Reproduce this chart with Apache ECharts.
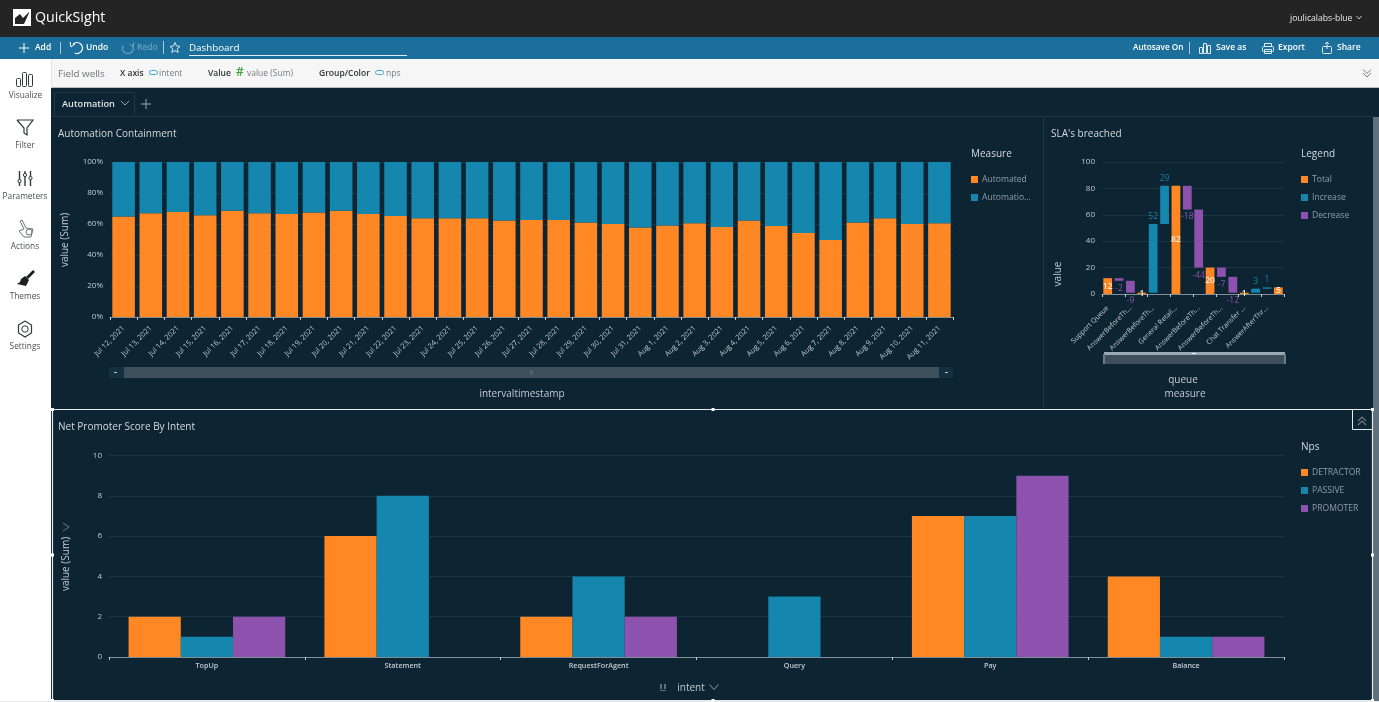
<!DOCTYPE html>
<html>
<head>
<meta charset="utf-8">
<title>QuickSight Dashboard</title>
<script src="https://cdn.jsdelivr.net/npm/echarts@6/dist/echarts.min.js"></script>
<style>
  html, body { margin: 0; padding: 0; background: #0d2432; }
  #main { width: 1379px; height: 702px; }
</style>
</head>
<body>
<div id="main"></div>
<script>
// automation containment
var days = ["Jul 12, 2021","Jul 13, 2021","Jul 14, 2021","Jul 15, 2021","Jul 16, 2021","Jul 17, 2021","Jul 18, 2021","Jul 19, 2021","Jul 20, 2021","Jul 21, 2021","Jul 22, 2021","Jul 23, 2021","Jul 24, 2021","Jul 25, 2021","Jul 26, 2021","Jul 27, 2021","Jul 28, 2021","Jul 29, 2021","Jul 30, 2021","Jul 31, 2021","Aug 1, 2021","Aug 2, 2021","Aug 3, 2021","Aug 4, 2021","Aug 5, 2021","Aug 6, 2021","Aug 7, 2021","Aug 8, 2021","Aug 9, 2021","Aug 10, 2021","Aug 11, 2021"];
var automated = [64.8,67,67.8,65.7,68.5,67,66.5,67.4,68.5,66.5,65.2,63.7,63.7,63.7,62.2,62.6,62.6,60.9,60,57.7,59,60.5,58.1,62.2,58.7,54.2,49.7,60.9,63.7,60,60.5];
var automationOther = [35.2,33,32.2,34.3,31.5,33,33.5,32.6,31.5,33.5,34.8,36.3,36.3,36.3,37.8,37.4,37.4,39.1,40,42.3,41,39.5,41.9,37.8,41.3,45.8,50.3,39.1,36.3,40,39.5];

// SLA waterfall
var queues = ["Support Queue","AnswerBeforeTh...","AnswerBeforeTh...","Ops Queue","AnswerBeforeTh...","AnswerBeforeTh...","General Retail...","AnswerBeforeTh...","AnswerBeforeTh...","Card Queue","AnswerBeforeTh...","AnswerBeforeTh...","Chat Transfer ...","AnswerAfterThr...","AnswerAfterThr...","Closing Queue"];
var slaBase = ["-",10,1,"-",1,53,"-",64,20,"-",13,1,"-",1,4,"-"];
var slaTotal = [12,"-","-",1,"-","-",82,"-","-",20,"-","-",1,"-","-",5];
var slaIncrease = ["-","-","-","-",52,29,"-","-","-","-","-","-","-",3,1,"-"];
var slaDecrease = ["-",2,9,"-","-","-","-",18,44,"-",7,12,"-","-","-","-"];

// NPS by intent
var intents = ["TopUp","Statement","RequestForAgent","Query","Pay","Balance"];
var detractor = [2,6,2,"-",7,4];
var passive = [1,8,4,3,7,1];
var promoter = [2,"-",2,"-",9,1];

var ORANGE = "#ff8724", BLUE = "#1586ae", PURPLE = "#8c52ae";
var FONT = "Open Sans";
var GRID_LINE = "#1c3543", AXIS_LINE = "#7f8f98", LABEL = "#c3cbd0", MUTED = "#8f9ea7";

var els = [];
function rect(x, y, w, h, fill, z) {
  els.push({ type: "rect", shape: { x: x, y: y, width: w, height: h }, style: { fill: fill }, z: z || 1, silent: true });
}
function box(x, y, w, h, stroke, r) {
  els.push({ type: "rect", shape: { x: x, y: y, width: w, height: h, r: r || 0 }, style: { fill: "none", stroke: stroke, lineWidth: 1 }, z: 3, silent: true });
}
function line(pts, stroke, lw) {
  els.push({ type: "polyline", shape: { points: pts }, style: { fill: "none", stroke: stroke, lineWidth: lw || 1 }, z: 3, silent: true });
}
function poly(pts, fill) {
  els.push({ type: "polygon", shape: { points: pts }, style: { fill: fill }, z: 3, silent: true });
}
function circle(cx, cy, r, stroke, fill) {
  els.push({ type: "circle", shape: { cx: cx, cy: cy, r: r }, style: { fill: fill || "none", stroke: stroke, lineWidth: 1 }, z: 3, silent: true });
}
function arc(cx, cy, r, a0, a1, stroke) {
  els.push({ type: "arc", shape: { cx: cx, cy: cy, r: r, startAngle: a0, endAngle: a1 }, style: { fill: "none", stroke: stroke, lineWidth: 1.2 }, z: 3, silent: true });
}
function text(str, x, y, size, color, opt) {
  opt = opt || {};
  els.push({
    type: "text", x: x, y: y, rotation: opt.rot || 0, z: 4, silent: true,
    style: { text: str, fill: color, font: (opt.bold ? "600 " : "") + size + "px '" + FONT + "'", textAlign: opt.align || "left", textVerticalAlign: "middle" }
  });
}
function chevron(cx, cy, w, h, color) {
  line([[cx - w, cy - h], [cx, cy + h], [cx + w, cy - h]], color, 1);
}

// page frame
rect(0, 0, 1379, 37, "#242424");
rect(0, 37, 1379, 22, "#1c6f9b");
rect(0, 59, 1379, 29, "#f6f6f6");
rect(0, 87, 1379, 1, "#b9bcbe");
rect(0, 59, 51, 643, "#ffffff");
rect(51, 59, 1, 29, "#e3e3e3");
rect(1373, 117, 6, 585, "#5f707a");

// top bar
poly([[13, 9], [31, 9], [31, 26], [13, 26]], "#ffffff");
poly([[15, 24], [15, 18], [20, 14], [23, 18], [29, 12], [29, 13], [24, 24]], "#242424");
text("QuickSight", 35, 18, 14.2, "#ffffff");
text("joulicalabs-blue", 1290, 18.5, 8.6, "#e8e8e8");
chevron(1359, 17.5, 2.5, 1.5, "#c8c8c8");

// action bar
line([[19, 48], [29, 48]], "#fff");
line([[24, 43], [24, 53]], "#fff");
text("Add", 35, 48, 8.5, "#fff", { bold: true });
rect(60, 42, 1, 12, "#a9c9da");
arc(77, 48, 5.5, -2.4, 2.0, "#fff");
line([[70, 42], [71, 47], [75, 44]], "#fff");
text("Undo", 86, 48, 8.5, "#fff", { bold: true });
arc(128, 48, 5.5, -0.7, 3.6, "#6aa0bd");
line([[134, 42], [133, 47], [129, 44]], "#6aa0bd");
text("Redo", 137, 48, 8.5, "#6aa0bd", { bold: true });
rect(163, 41, 1, 13, "#a9c9da");
line([[175, 42.5], [176.5, 46], [180, 46.4], [177.3, 48.8], [178.2, 52.5], [175, 50.5], [171.8, 52.5], [172.7, 48.8], [170, 46.4], [173.5, 46], [175, 42.5]], "#d8e6ee", 1);
text("Dashboard", 189, 48, 9.8, "#ffffff");
rect(189, 55, 218, 1, "#dfeaf0");
text("Autosave On", 1133, 48, 8.2, "#fff", { bold: true });
rect(1189, 42, 1, 12, "#a9c9da");
box(1199.5, 47.5, 3, 6, "#dfeaf0");
box(1203.5, 43.5, 3, 10, "#dfeaf0");
box(1207.5, 45.5, 3, 8, "#dfeaf0");
text("Save as", 1216, 48, 8.5, "#fff", { bold: true });
box(1262.5, 46.5, 11, 5, "#dfeaf0", 1);
box(1264.5, 43.5, 7, 3, "#dfeaf0");
box(1264.5, 49.5, 7, 4, "#dfeaf0");
text("Export", 1278, 48, 8.5, "#fff", { bold: true });
box(1322.5, 46.5, 9, 7, "#dfeaf0", 1);
line([[1327, 49], [1327, 42]], "#dfeaf0");
line([[1325, 44], [1327, 42], [1329, 44]], "#dfeaf0");
text("Share", 1337, 48, 8.5, "#fff", { bold: true });

// field wells
text("Field wells", 58, 74, 9.8, "#6f7478");
text("X axis", 120, 74, 8.5, "#2e3236", { bold: true });
box(149.5, 70.5, 8, 4, "#41a7d8", 2);
text("intent", 159, 74, 8.5, "#777c80");
text("Value", 208, 74, 8.5, "#2e3236", { bold: true });
text("#", 236, 73, 12, "#3aa63a", { bold: true });
text("value (Sum)", 247, 74, 8.5, "#777c80");
text("Group/Color", 319, 74, 8.5, "#2e3236", { bold: true });
box(375.5, 70.5, 8, 4, "#41a7d8", 2);
text("nps", 386, 74, 8.5, "#777c80");
chevron(1367, 71.5, 4, 2, "#777c80");
chevron(1367, 75, 4, 2, "#777c80");

// left rail
var railInk = "#33383c";
box(16.5, 78.5, 4, 8, railInk, 1);
box(22.5, 72.5, 4, 14, railInk, 1);
box(28.5, 74.5, 4, 12, railInk, 1);
text("Visualize", 25.5, 95.5, 8.3, "#4a4f54", { align: "center" });
line([[17, 120], [33, 120], [27, 128], [27, 135], [24, 133], [24, 128], [17, 120]], railInk, 1.2);
text("Filter", 25, 145.5, 8.3, "#4a4f54", { align: "center" });
[[19.5, 181], [25, 175], [30.5, 178]].forEach(function (k) {
  line([[k[0], 171], [k[0], 186]], railInk, 1.4);
  circle(k[0], k[1], 1.6, railInk, "#fff");
});
text("Parameters", 25, 196.5, 8.3, "#4a4f54", { align: "center" });
line([[20, 221], [24, 229], [19, 231], [24, 237], [31, 237], [33, 229], [26, 228], [22, 220], [20, 221]], "#6f7478", 1);
circle(29, 232, 3, "#6f7478");
text("Actions", 25, 246.5, 8.3, "#4a4f54", { align: "center" });
poly([[33, 270], [35, 272], [28, 279], [26, 277]], "#1d1f21");
poly([[25, 276], [29, 280], [26, 286], [17, 284], [20, 282], [21, 279]], "#1d1f21");
text("Themes", 25, 296.5, 8.3, "#4a4f54", { align: "center" });
line([[25, 321], [31.5, 325], [31.5, 333], [25, 337], [18.5, 333], [18.5, 325], [25, 321]], railInk, 1.2);
circle(25, 329, 3.2, railInk);
text("Settings", 25, 347, 8.3, "#4a4f54", { align: "center" });

// sheet tab
rect(53, 116, 1320, 1, "#1d3847");
box(54.5, 92.5, 80, 24, "#1d3847");
rect(55, 112, 79, 5, "#0d2432");
text("Automation", 62, 104.5, 9.2, "#dfe5e8", { bold: true });
chevron(125, 103, 4, 2, "#9aa7ae");
line([[141, 104], [151, 104]], "#9aa7ae");
line([[146, 99], [146, 109]], "#9aa7ae");

// panel dividers and the selected panel frame
rect(1043, 117, 1, 291, "#1d3847");
text("Measure", 971, 154.5, 10, "#d4dade");
text("Legend", 1301, 154.5, 10, "#d4dade");
text("Nps", 1301, 447.5, 10, "#d4dade");
line([[52, 409.5], [1372.5, 409.5], [1372.5, 700.5], [52.5, 700.5], [52.5, 409.5]], "#e6eaec", 1.2);
[[52.5, 409.5], [713, 409.5], [1372.5, 409.5], [52.5, 555], [1372.5, 555], [52.5, 700.5], [713, 700.5], [1372.5, 700.5]].forEach(function (p) {
  rect(p[0] - 1.5, p[1] - 1.5, 3, 3, "#ffffff", 5);
});
line([[1352.5, 410], [1352.5, 429.5], [1372, 429.5]], "#e6eaec", 1);
line([[1358, 421], [1362, 417], [1366, 421]], "#6c7c85", 1.2);
line([[1358, 425], [1362, 421], [1366, 425]], "#6c7c85", 1.2);
rect(0, 701, 1379, 1, "#e6eaec");

// axis titles, placed where the dashboard places them
text("value (Sum)", 65, 240, 10, LABEL, { rot: Math.PI / 2, align: "center" });
text("intervaltimestamp", 522, 394, 10, LABEL, { align: "center" });
text("value", 1058, 274, 10, LABEL, { rot: Math.PI / 2, align: "center" });
text("queue", 1183, 380, 10, LABEL, { align: "center" });
text("measure", 1185, 394, 10, LABEL, { align: "center" });
text("value (Sum)", 66, 564, 10, LABEL, { rot: Math.PI / 2, align: "center" });
line([[63, 523], [69, 527], [63, 531]], "#6c7c85", 1);
text("intent", 691, 688, 10, LABEL, { align: "center" });
chevron(714, 687, 4.5, 2.5, "#8f9ea7");
rect(660, 684, 2, 5, "#5d6e78");
rect(664, 684, 2, 5, "#5d6e78");
rect(660, 690, 6, 1, "#5d6e78");

// scroll bars under the two top charts
rect(109, 367, 844, 11, "#12303f");
rect(124, 367, 815, 11, "#3e505b");
rect(114, 372, 3, 1, "#b8c2c8");
rect(945, 372, 3, 1, "#b8c2c8");
rect(530, 370.5, 3, 4, "#55666f");
rect(1104, 352, 181, 12, "#3e505b");
rect(1104, 352, 181, 3, "#9aa9b2");
rect(1103, 354, 2, 10, "#6c7c85");
rect(1284, 354, 2, 10, "#6c7c85");
rect(1192, 353, 4, 1, "#e6eaec");

var myChart = echarts.init(document.getElementById("main"));

function xAxisBase(gridIndex, data) {
  return {
    type: "category", gridIndex: gridIndex, data: data,
    axisLine: { show: true, lineStyle: { color: AXIS_LINE } },
    axisTick: { show: true, lineStyle: { color: LABEL }, length: 3 },
    axisLabel: { color: LABEL, fontFamily: FONT, fontSize: 8, interval: 0 }
  };
}
function yAxisBase(gridIndex, max, interval) {
  return {
    type: "value", gridIndex: gridIndex, min: 0, max: max, interval: interval,
    axisLine: { show: false }, axisTick: { show: false },
    splitLine: { lineStyle: { color: GRID_LINE } },
    axisLabel: { color: LABEL, fontFamily: FONT, fontSize: 8, margin: 7 }
  };
}
function legendBase(names, left, top, gap) {
  return {
    data: names, orient: "vertical", left: left, top: top, padding: 0,
    icon: "rect", itemWidth: 7, itemHeight: 7, itemGap: gap, selectedMode: false,
    textStyle: { color: MUTED, fontFamily: FONT, fontSize: 8.6, padding: [0, 0, 0, -1] }
  };
}
function titleBase(str, left, top) {
  return { text: str, left: left, top: top, padding: 0, textStyle: { color: "#d4dade", fontFamily: FONT, fontSize: 10, fontWeight: "normal" } };
}

var xDays = xAxisBase(0, days);
xDays.axisLabel.rotate = 45;
xDays.axisLabel.fontSize = 7.4;
xDays.axisLabel.margin = 10;
var yPct = yAxisBase(0, 100, 20);
yPct.axisLabel.formatter = "{value}%";

var xQueues = xAxisBase(1, queues);
xQueues.axisTick.interval = 1;
xQueues.axisLabel.interval = 1;
xQueues.axisLabel.rotate = 45;
xQueues.axisLabel.fontSize = 7;
xQueues.axisLabel.margin = 13;

var xIntents = xAxisBase(2, intents);
xIntents.axisLabel.fontSize = 7.2;
xIntents.axisLabel.fontWeight = 600;
xIntents.axisLabel.margin = 5;

var option = {
  backgroundColor: "#0d2432",
  animation: false,
  textStyle: { fontFamily: FONT },
  title: [
    titleBase("Automation Containment", 58, 129.5),
    titleBase("SLA's breached", 1051, 129.5),
    titleBase("Net Promoter Score By Intent", 58, 422.5)
  ],
  legend: [
    legendBase(["Automated", "Automatio..."], 971, 175, 9),
    legendBase(["Total", "Increase", "Decrease"], 1301, 175, 9),
    legendBase(["DETRACTOR", "PASSIVE", "PROMOTER"], 1301, 468, 9)
  ],
  grid: [
    { left: 110, top: 162, width: 843, height: 155 },
    { left: 1102, top: 162, width: 182, height: 132 },
    { left: 109, top: 455.5, width: 1175, height: 201.5 }
  ],
  xAxis: [xDays, xQueues, xIntents],
  yAxis: [yPct, yAxisBase(1, 100, 20), yAxisBase(2, 10, 2)],
  series: [
    { name: "Automated", type: "bar", stack: "share", data: automated, barCategoryGap: "17%", itemStyle: { color: ORANGE } },
    { name: "Automatio...", type: "bar", stack: "share", data: automationOther, itemStyle: { color: BLUE } },

    { name: "base", type: "bar", stack: "sla", xAxisIndex: 1, yAxisIndex: 1, data: slaBase, barCategoryGap: "23%", itemStyle: { color: "transparent" }, silent: true },
    {
      name: "Total", type: "bar", stack: "sla", xAxisIndex: 1, yAxisIndex: 1, data: slaTotal, itemStyle: { color: ORANGE },
      label: { show: true, position: "inside", color: "#f3e9dc", fontFamily: FONT, fontSize: 8.5, fontWeight: 600, textBorderWidth: 0 }
    },
    {
      name: "Increase", type: "bar", stack: "sla", xAxisIndex: 1, yAxisIndex: 1, data: slaIncrease, itemStyle: { color: BLUE },
      label: { show: true, position: "top", distance: 3, color: BLUE, fontFamily: FONT, fontSize: 8.5, textBorderWidth: 0 }
    },
    {
      name: "Decrease", type: "bar", stack: "sla", xAxisIndex: 1, yAxisIndex: 1, data: slaDecrease, itemStyle: { color: PURPLE },
      label: { show: true, position: "bottom", distance: 3, color: PURPLE, fontFamily: FONT, fontSize: 8.5, textBorderWidth: 0, formatter: function (p) { return "-" + p.value; } }
    },

    { name: "DETRACTOR", type: "bar", xAxisIndex: 2, yAxisIndex: 2, data: detractor, barGap: 0, barCategoryGap: "20%", itemStyle: { color: ORANGE } },
    { name: "PASSIVE", type: "bar", xAxisIndex: 2, yAxisIndex: 2, data: passive, itemStyle: { color: BLUE } },
    { name: "PROMOTER", type: "bar", xAxisIndex: 2, yAxisIndex: 2, data: promoter, itemStyle: { color: PURPLE } }
  ],
  graphic: { elements: els }
};
myChart.setOption(option);
</script>
</body>
</html>
